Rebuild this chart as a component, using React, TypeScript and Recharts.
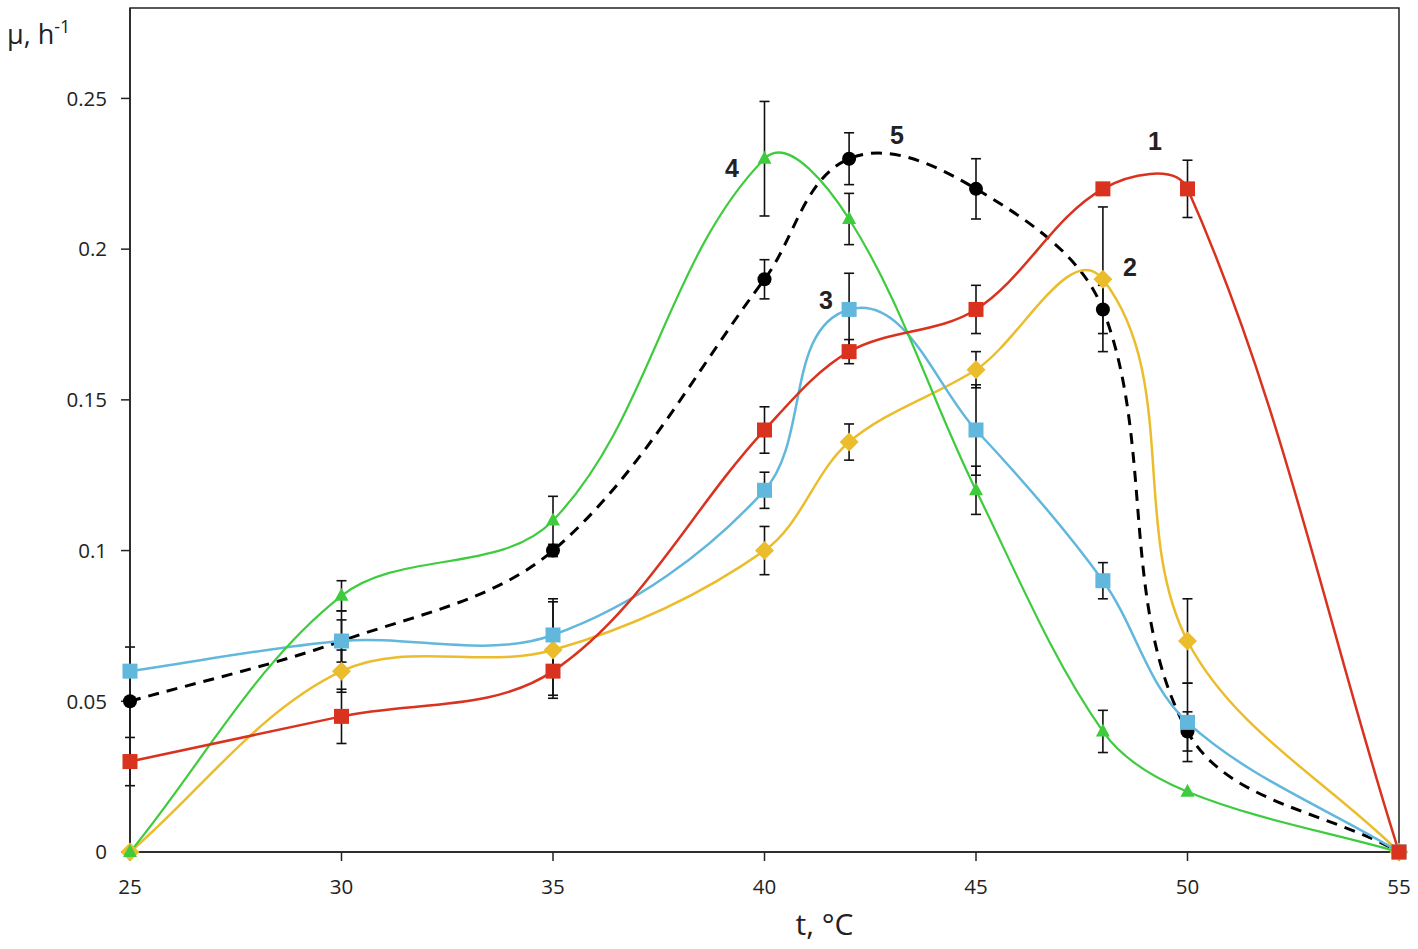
import React from 'react';
import { LineChart, Line, XAxis, YAxis, ErrorBar, ReferenceArea, ReferenceDot } from 'recharts';

// temperature points (°C)
const temps = [25, 30, 35, 40, 42, 45, 48, 50, 55];

// specific growth rate μ, h-1 (curves 1..5)
const mu1 = [0.03, 0.045, 0.06, 0.14, 0.166, 0.18, 0.22, 0.22, 0];
const mu2 = [0, 0.06, 0.067, 0.1, 0.136, 0.16, 0.19, 0.07, 0];
const mu3 = [0.06, 0.07, 0.072, 0.12, 0.18, 0.14, 0.09, 0.043, 0];
const mu4 = [0, 0.085, 0.11, 0.23, 0.21, 0.12, 0.04, 0.02, 0];
const mu5 = [0.05, 0.07, 0.1, 0.19, 0.23, 0.22, 0.18, 0.04, 0];

// error bars (± value), null = no bar
const err1 = [0.008, 0.009, 0.008, 0.0077, 0.004, 0.008, null, 0.0095, null];
const err2 = [null, 0.007, 0.016, 0.008, 0.006, 0.006, 0.024, 0.014, null];
const err3 = [null, 0.01, 0.012, 0.006, 0.012, 0.015, 0.006, 0.013, null];
const err4 = [null, 0.005, 0.008, 0.019, 0.0085, 0.008, 0.007, null, null];
const err5 = [0.018, 0.007, 0.002, 0.0065, 0.0086, 0.01, 0.008, 0.0065, null];

const xTicks = [25, 30, 35, 40, 45, 50, 55];
const yTicks = [0, 0.05, 0.1, 0.15, 0.2, 0.25];

// curve number labels: [name, t, μ]
const curveLabels: [string, number, number][] = [
    ['1', 49.23, 0.236],
    ['2', 48.64, 0.194],
    ['3', 41.45, 0.183],
    ['4', 39.23, 0.227],
    ['5', 43.13, 0.238],
];

const RED = '#d9331f';
const YELLOW = '#ebbd2c';
const CYAN = '#62b7dc';
const GREEN = '#3ecc3e';

const data = temps.map((t, i) => ({
    t,
    s1: mu1[i], s2: mu2[i], s3: mu3[i], s4: mu4[i], s5: mu5[i],
    e1: err1[i], e2: err2[i], e3: err3[i], e4: err4[i], e5: err5[i],
}));

// Excel-like smoothed line: cubic bezier, tangent along neighbours, scaled by segment length
const smoothCurve = (context: any) => {
    let pts: number[][] = [];
    return {
        areaStart() {},
        areaEnd() {},
        lineStart() { pts = []; },
        point(x: number, y: number) { pts.push([+x, +y]); },
        lineEnd() {
            const n = pts.length;
            if (!n) return;
            context.moveTo(pts[0][0], pts[0][1]);
            if (n === 1) return;
            const ctrl = pts.map((p, i) => {
                const prev = pts[Math.max(0, i - 1)];
                const next = pts[Math.min(n - 1, i + 1)];
                let dx = next[0] - prev[0];
                let dy = next[1] - prev[1];
                const len = Math.hypot(dx, dy) || 1;
                dx /= len; dy /= len;
                const dIn = i > 0 ? Math.hypot(p[0] - pts[i - 1][0], p[1] - pts[i - 1][1]) : 0;
                const dOut = i < n - 1 ? Math.hypot(pts[i + 1][0] - p[0], pts[i + 1][1] - p[1]) : 0;
                return [p[0] - dx * dIn / 3, p[1] - dy * dIn / 3, p[0] + dx * dOut / 3, p[1] + dy * dOut / 3];
            });
            for (let i = 0; i < n - 1; i++) {
                context.bezierCurveTo(ctrl[i][2], ctrl[i][3], ctrl[i + 1][0], ctrl[i + 1][1], pts[i + 1][0], pts[i + 1][1]);
            }
        },
    };
};

const squareDot = (color: string) => (p: any) => {
    if (p.cx == null || p.cy == null) return <g key={p.index} />;
    return <rect key={p.index} x={p.cx - 7.5} y={p.cy - 7.5} width={15} height={15} fill={color} />;
};
const diamondDot = (p: any) => {
    if (p.cx == null || p.cy == null) return <g key={p.index} />;
    const r = 9.5;
    return <polygon key={p.index} points={`${p.cx},${p.cy - r} ${p.cx + r},${p.cy} ${p.cx},${p.cy + r} ${p.cx - r},${p.cy}`} fill={YELLOW} />;
};
const triangleDot = (p: any) => {
    if (p.cx == null || p.cy == null) return <g key={p.index} />;
    return <polygon key={p.index} points={`${p.cx},${p.cy - 8} ${p.cx + 7},${p.cy + 5} ${p.cx - 7},${p.cy + 5}`} fill={GREEN} />;
};
const circleDot = (p: any) => {
    if (p.cx == null || p.cy == null) return <g key={p.index} />;
    return <circle key={p.index} cx={p.cx} cy={p.cy} r={7} fill="#000" />;
};

const font = '"Open Sans", "Noto Sans", sans-serif';

export default function App() {
    return (
        <div style={{ position: 'absolute', left: 0, top: 0, width: 1418, height: 949, background: '#fff' }}>
            <LineChart width={1418} height={949} data={data} margin={{ top: 8, right: 19, left: 60, bottom: 0 }}>
                <XAxis
                    dataKey="t"
                    type="number"
                    domain={[25, 55]}
                    ticks={xTicks}
                    height={97}
                    tickSize={9}
                    tickMargin={18}
                    stroke="#222"
                    strokeWidth={1.5}
                    tick={{ fill: '#222', fontSize: 20.5, fontFamily: font }}
                    label={{
                        content: (props: any) => {
                            const vb = props.viewBox;
                            return (
                                <text x={vb.x + vb.width / 2 + 60} y={vb.y + 83} textAnchor="middle" fontSize={30} fontFamily={font} fill="#222">
                                    t, °C
                                </text>
                            );
                        },
                    }}
                />
                <YAxis
                    type="number"
                    domain={[0, 0.28]}
                    ticks={yTicks}
                    width={70}
                    tickSize={9}
                    tickMargin={14}
                    stroke="#222"
                    strokeWidth={1.5}
                    tick={{ fill: '#222', fontSize: 20.5, fontFamily: font }}
                    label={{
                        content: (props: any) => {
                            const vb = props.viewBox;
                            return (
                                <text x={vb.x - 53} y={vb.y + 36} fontSize={27} fontFamily={font} fill="#222">
                                    μ, h<tspan fontSize={18} dy={-11}>-1</tspan>
                                </text>
                            );
                        },
                    }}
                />
                <ReferenceArea x1={25} x2={55} y1={0} y2={0.28} fill="none" stroke="#222" strokeWidth={1.5} />

                <Line dataKey="s5" type={smoothCurve as any} stroke="#000" strokeWidth={3} strokeDasharray="11 8" dot={circleDot} activeDot={false} isAnimationActive={false}>
                    <ErrorBar dataKey="e5" direction="y" width={5} stroke="#111" strokeWidth={1.6} />
                </Line>
                <Line dataKey="s2" type={smoothCurve as any} stroke={YELLOW} strokeWidth={2.5} dot={diamondDot} activeDot={false} isAnimationActive={false}>
                    <ErrorBar dataKey="e2" direction="y" width={5} stroke="#111" strokeWidth={1.6} />
                </Line>
                <Line dataKey="s3" type={smoothCurve as any} stroke={CYAN} strokeWidth={2.5} dot={squareDot(CYAN)} activeDot={false} isAnimationActive={false}>
                    <ErrorBar dataKey="e3" direction="y" width={5} stroke="#111" strokeWidth={1.6} />
                </Line>
                <Line dataKey="s4" type={smoothCurve as any} stroke={GREEN} strokeWidth={2.2} dot={triangleDot} activeDot={false} isAnimationActive={false}>
                    <ErrorBar dataKey="e4" direction="y" width={5} stroke="#111" strokeWidth={1.6} />
                </Line>
                <Line dataKey="s1" type={smoothCurve as any} stroke={RED} strokeWidth={2.5} dot={squareDot(RED)} activeDot={false} isAnimationActive={false}>
                    <ErrorBar dataKey="e1" direction="y" width={5} stroke="#111" strokeWidth={1.6} />
                </Line>

                {curveLabels.map(([name, t, v]) => (
                    <ReferenceDot
                        key={name}
                        x={t}
                        y={v}
                        r={0}
                        shape={(p: any) => (
                            <text x={p.cx} y={p.cy} textAnchor="middle" dominantBaseline="central" fontSize={25} fontWeight="bold" fontFamily='"Liberation Sans", Arial, sans-serif' fill="#222">
                                {name}
                            </text>
                        )}
                    />
                ))}
            </LineChart>
        </div>
    );
}
